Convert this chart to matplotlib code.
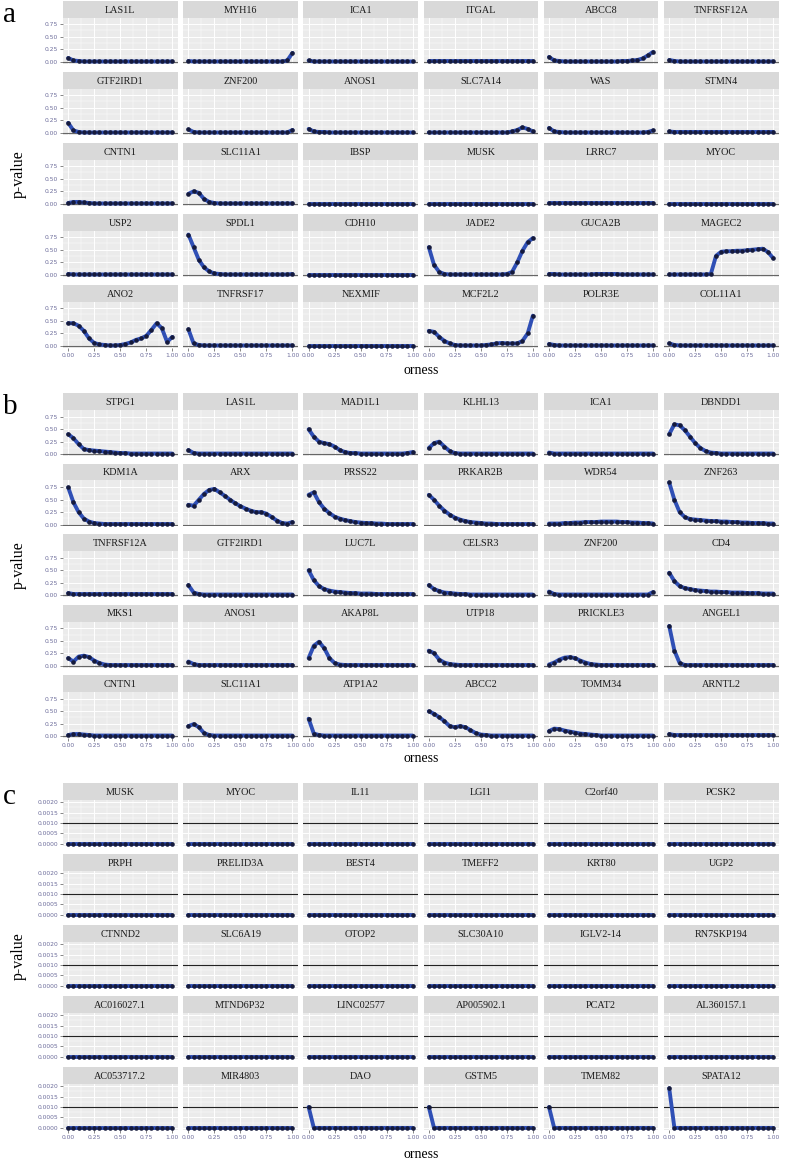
import matplotlib
matplotlib.use("Agg")
import matplotlib.pyplot as plt
from matplotlib.ticker import FixedLocator


W, H = 786, 1161

ORNESS = [0.00, 0.05, 0.10, 0.15, 0.20, 0.25, 0.30, 0.35, 0.40, 0.45, 0.50,
          0.55, 0.60, 0.65, 0.70, 0.75, 0.80, 0.85, 0.90, 0.95, 1.00]

# ---- panel a ----
A_GENES = ["LAS1L", "MYH16", "ICA1", "ITGAL", "ABCC8", "TNFRSF12A",
           "GTF2IRD1", "ZNF200", "ANOS1", "SLC7A14", "WAS", "STMN4",
           "CNTN1", "SLC11A1", "IBSP", "MUSK", "LRRC7", "MYOC",
           "USP2", "SPDL1", "CDH10", "JADE2", "GUCA2B", "MAGEC2",
           "ANO2", "TNFRSF17", "NEXMIF", "MCF2L2", "POLR3E", "COL11A1"]
A_PVALS = [
    [0.08, 0.03, 0.02, 0.01, 0.01, 0.01, 0.01, 0.01, 0.01, 0.01, 0.01, 0.01, 0.01, 0.01, 0.01, 0.01, 0.01, 0.01, 0.01, 0.01, 0.01],
    [0.02, 0.01, 0.01, 0.01, 0.01, 0.01, 0.01, 0.01, 0.01, 0.01, 0.01, 0.01, 0.01, 0.01, 0.01, 0.01, 0.01, 0.01, 0.01, 0.03, 0.18],
    [0.03, 0.01, 0.01, 0.01, 0.01, 0.01, 0.01, 0.01, 0.01, 0.01, 0.01, 0.01, 0.01, 0.01, 0.01, 0.01, 0.01, 0.01, 0.01, 0.01, 0.01],
    [0.01, 0.01, 0.01, 0.01, 0.01, 0.01, 0.01, 0.01, 0.01, 0.01, 0.01, 0.01, 0.01, 0.01, 0.01, 0.01, 0.01, 0.01, 0.01, 0.01, 0.01],
    [0.10, 0.03, 0.02, 0.01, 0.01, 0.01, 0.01, 0.01, 0.01, 0.01, 0.01, 0.01, 0.01, 0.01, 0.02, 0.02, 0.03, 0.04, 0.07, 0.13, 0.20],
    [0.04, 0.02, 0.01, 0.01, 0.01, 0.01, 0.01, 0.01, 0.01, 0.01, 0.01, 0.01, 0.01, 0.01, 0.01, 0.01, 0.01, 0.01, 0.01, 0.01, 0.01],
    [0.20, 0.05, 0.02, 0.01, 0.01, 0.01, 0.01, 0.01, 0.01, 0.01, 0.01, 0.01, 0.01, 0.01, 0.01, 0.01, 0.01, 0.01, 0.01, 0.01, 0.01],
    [0.07, 0.02, 0.01, 0.01, 0.01, 0.01, 0.01, 0.01, 0.01, 0.01, 0.01, 0.01, 0.01, 0.01, 0.01, 0.01, 0.01, 0.01, 0.01, 0.01, 0.06],
    [0.08, 0.03, 0.02, 0.02, 0.01, 0.01, 0.01, 0.01, 0.01, 0.01, 0.01, 0.01, 0.01, 0.01, 0.01, 0.01, 0.01, 0.01, 0.01, 0.01, 0.01],
    [0.01, 0.01, 0.01, 0.01, 0.01, 0.01, 0.01, 0.01, 0.01, 0.01, 0.01, 0.01, 0.01, 0.01, 0.01, 0.01, 0.03, 0.06, 0.11, 0.08, 0.03],
    [0.10, 0.03, 0.02, 0.01, 0.01, 0.01, 0.01, 0.01, 0.01, 0.01, 0.01, 0.01, 0.01, 0.01, 0.01, 0.01, 0.01, 0.01, 0.01, 0.02, 0.05],
    [0.03, 0.02, 0.02, 0.02, 0.02, 0.02, 0.02, 0.02, 0.02, 0.02, 0.02, 0.02, 0.02, 0.02, 0.02, 0.02, 0.02, 0.02, 0.02, 0.02, 0.02],
    [0.02, 0.04, 0.04, 0.03, 0.02, 0.01, 0.01, 0.01, 0.01, 0.01, 0.01, 0.01, 0.01, 0.01, 0.01, 0.01, 0.01, 0.01, 0.01, 0.01, 0.01],
    [0.20, 0.25, 0.22, 0.10, 0.04, 0.02, 0.01, 0.01, 0.01, 0.01, 0.01, 0.01, 0.01, 0.01, 0.01, 0.01, 0.01, 0.01, 0.01, 0.01, 0.01],
    [0.00, 0.00, 0.00, 0.00, 0.00, 0.00, 0.00, 0.00, 0.00, 0.00, 0.00, 0.00, 0.00, 0.00, 0.00, 0.00, 0.00, 0.00, 0.00, 0.00, 0.00],
    [0.00, 0.00, 0.00, 0.00, 0.00, 0.00, 0.00, 0.00, 0.00, 0.00, 0.00, 0.00, 0.00, 0.00, 0.00, 0.00, 0.00, 0.00, 0.00, 0.00, 0.00],
    [0.01, 0.01, 0.01, 0.01, 0.01, 0.01, 0.01, 0.01, 0.01, 0.01, 0.01, 0.01, 0.01, 0.01, 0.01, 0.01, 0.01, 0.01, 0.01, 0.01, 0.01],
    [0.00, 0.00, 0.00, 0.00, 0.00, 0.00, 0.00, 0.00, 0.00, 0.00, 0.00, 0.00, 0.00, 0.00, 0.00, 0.00, 0.00, 0.00, 0.00, 0.00, 0.00],
    [0.02, 0.01, 0.01, 0.01, 0.01, 0.01, 0.01, 0.01, 0.01, 0.01, 0.01, 0.01, 0.01, 0.01, 0.01, 0.01, 0.01, 0.01, 0.01, 0.01, 0.01],
    [0.80, 0.55, 0.30, 0.15, 0.07, 0.03, 0.02, 0.01, 0.01, 0.01, 0.01, 0.01, 0.01, 0.01, 0.01, 0.01, 0.01, 0.01, 0.01, 0.01, 0.02],
    [0.00, 0.00, 0.00, 0.00, 0.00, 0.00, 0.00, 0.00, 0.00, 0.00, 0.00, 0.00, 0.00, 0.00, 0.00, 0.00, 0.00, 0.00, 0.00, 0.00, 0.00],
    [0.55, 0.20, 0.06, 0.02, 0.01, 0.01, 0.01, 0.01, 0.01, 0.01, 0.01, 0.01, 0.01, 0.01, 0.01, 0.02, 0.06, 0.25, 0.48, 0.65, 0.73],
    [0.02, 0.02, 0.01, 0.01, 0.01, 0.01, 0.01, 0.01, 0.01, 0.02, 0.02, 0.02, 0.02, 0.02, 0.01, 0.01, 0.01, 0.01, 0.01, 0.01, 0.01],
    [0.01, 0.01, 0.01, 0.01, 0.01, 0.01, 0.01, 0.01, 0.02, 0.38, 0.46, 0.47, 0.47, 0.48, 0.48, 0.49, 0.50, 0.51, 0.52, 0.45, 0.33],
    [0.45, 0.45, 0.40, 0.30, 0.15, 0.06, 0.03, 0.02, 0.01, 0.01, 0.02, 0.04, 0.07, 0.12, 0.15, 0.20, 0.32, 0.45, 0.35, 0.08, 0.18],
    [0.33, 0.05, 0.02, 0.01, 0.01, 0.01, 0.01, 0.01, 0.01, 0.01, 0.01, 0.01, 0.01, 0.01, 0.01, 0.01, 0.01, 0.01, 0.01, 0.01, 0.01],
    [0.00, 0.00, 0.00, 0.00, 0.00, 0.00, 0.00, 0.00, 0.00, 0.00, 0.00, 0.00, 0.00, 0.00, 0.00, 0.00, 0.00, 0.00, 0.00, 0.00, 0.00],
    [0.30, 0.28, 0.18, 0.10, 0.05, 0.02, 0.01, 0.01, 0.01, 0.01, 0.01, 0.02, 0.03, 0.05, 0.06, 0.05, 0.05, 0.05, 0.10, 0.25, 0.60],
    [0.04, 0.02, 0.01, 0.01, 0.01, 0.01, 0.01, 0.01, 0.01, 0.01, 0.01, 0.01, 0.01, 0.01, 0.01, 0.01, 0.01, 0.01, 0.01, 0.01, 0.01],
    [0.05, 0.02, 0.01, 0.01, 0.01, 0.01, 0.01, 0.01, 0.01, 0.01, 0.01, 0.01, 0.01, 0.01, 0.01, 0.01, 0.01, 0.01, 0.01, 0.01, 0.01],
]

# ---- panel b ----
B_GENES = ["STPG1", "LAS1L", "MAD1L1", "KLHL13", "ICA1", "DBNDD1",
           "KDM1A", "ARX", "PRSS22", "PRKAR2B", "WDR54", "ZNF263",
           "TNFRSF12A", "GTF2IRD1", "LUC7L", "CELSR3", "ZNF200", "CD4",
           "MKS1", "ANOS1", "AKAP8L", "UTP18", "PRICKLE3", "ANGEL1",
           "CNTN1", "SLC11A1", "ATP1A2", "ABCC2", "TOMM34", "ARNTL2"]
B_PVALS = [
    [0.40, 0.32, 0.20, 0.10, 0.08, 0.07, 0.06, 0.05, 0.04, 0.03, 0.02, 0.02, 0.01, 0.01, 0.01, 0.01, 0.01, 0.01, 0.01, 0.01, 0.01],
    [0.08, 0.02, 0.01, 0.01, 0.01, 0.01, 0.01, 0.01, 0.01, 0.01, 0.01, 0.01, 0.01, 0.01, 0.01, 0.01, 0.01, 0.01, 0.01, 0.01, 0.01],
    [0.50, 0.35, 0.25, 0.22, 0.20, 0.15, 0.08, 0.04, 0.02, 0.02, 0.01, 0.01, 0.01, 0.01, 0.01, 0.01, 0.01, 0.01, 0.01, 0.02, 0.04],
    [0.12, 0.22, 0.25, 0.15, 0.06, 0.02, 0.01, 0.01, 0.01, 0.01, 0.01, 0.01, 0.01, 0.01, 0.01, 0.01, 0.01, 0.01, 0.01, 0.01, 0.01],
    [0.03, 0.01, 0.01, 0.01, 0.01, 0.01, 0.01, 0.01, 0.01, 0.01, 0.01, 0.01, 0.01, 0.01, 0.01, 0.01, 0.01, 0.01, 0.01, 0.01, 0.01],
    [0.40, 0.60, 0.58, 0.48, 0.35, 0.22, 0.12, 0.06, 0.03, 0.02, 0.01, 0.01, 0.01, 0.01, 0.01, 0.01, 0.01, 0.01, 0.01, 0.01, 0.01],
    [0.75, 0.45, 0.25, 0.12, 0.06, 0.03, 0.02, 0.01, 0.01, 0.01, 0.01, 0.01, 0.01, 0.01, 0.01, 0.01, 0.01, 0.01, 0.01, 0.01, 0.01],
    [0.40, 0.38, 0.50, 0.62, 0.70, 0.72, 0.65, 0.58, 0.50, 0.43, 0.37, 0.32, 0.28, 0.25, 0.25, 0.22, 0.15, 0.08, 0.03, 0.02, 0.05],
    [0.60, 0.65, 0.45, 0.32, 0.23, 0.16, 0.12, 0.09, 0.07, 0.05, 0.04, 0.03, 0.03, 0.02, 0.02, 0.01, 0.01, 0.01, 0.01, 0.01, 0.01],
    [0.60, 0.50, 0.38, 0.28, 0.20, 0.14, 0.10, 0.07, 0.05, 0.04, 0.03, 0.02, 0.02, 0.01, 0.01, 0.01, 0.01, 0.01, 0.01, 0.01, 0.01],
    [0.02, 0.02, 0.02, 0.03, 0.03, 0.04, 0.04, 0.05, 0.05, 0.05, 0.06, 0.06, 0.06, 0.06, 0.05, 0.05, 0.04, 0.04, 0.03, 0.03, 0.02],
    [0.85, 0.50, 0.25, 0.15, 0.11, 0.10, 0.09, 0.08, 0.07, 0.07, 0.06, 0.06, 0.05, 0.05, 0.04, 0.04, 0.03, 0.03, 0.03, 0.02, 0.02],
    [0.04, 0.02, 0.02, 0.02, 0.02, 0.02, 0.02, 0.02, 0.02, 0.02, 0.02, 0.02, 0.02, 0.02, 0.02, 0.02, 0.02, 0.02, 0.02, 0.02, 0.02],
    [0.20, 0.05, 0.02, 0.01, 0.01, 0.01, 0.01, 0.01, 0.01, 0.01, 0.01, 0.01, 0.01, 0.01, 0.01, 0.01, 0.01, 0.01, 0.01, 0.01, 0.01],
    [0.50, 0.30, 0.18, 0.12, 0.09, 0.07, 0.06, 0.05, 0.04, 0.04, 0.03, 0.03, 0.03, 0.02, 0.02, 0.02, 0.02, 0.02, 0.02, 0.02, 0.02],
    [0.20, 0.12, 0.08, 0.05, 0.04, 0.03, 0.02, 0.02, 0.01, 0.01, 0.01, 0.01, 0.01, 0.01, 0.01, 0.01, 0.01, 0.01, 0.01, 0.01, 0.01],
    [0.07, 0.02, 0.01, 0.01, 0.01, 0.01, 0.01, 0.01, 0.01, 0.01, 0.01, 0.01, 0.01, 0.01, 0.01, 0.01, 0.01, 0.01, 0.01, 0.01, 0.06],
    [0.45, 0.28, 0.18, 0.14, 0.12, 0.10, 0.09, 0.08, 0.07, 0.07, 0.06, 0.06, 0.05, 0.05, 0.05, 0.04, 0.04, 0.04, 0.03, 0.03, 0.03],
    [0.15, 0.08, 0.18, 0.20, 0.17, 0.10, 0.05, 0.02, 0.01, 0.01, 0.01, 0.01, 0.01, 0.01, 0.01, 0.01, 0.01, 0.01, 0.01, 0.01, 0.01],
    [0.08, 0.03, 0.01, 0.01, 0.01, 0.01, 0.01, 0.01, 0.01, 0.01, 0.01, 0.01, 0.01, 0.01, 0.01, 0.01, 0.01, 0.01, 0.01, 0.01, 0.01],
    [0.15, 0.40, 0.48, 0.35, 0.15, 0.05, 0.02, 0.01, 0.01, 0.01, 0.01, 0.01, 0.01, 0.01, 0.01, 0.01, 0.01, 0.01, 0.01, 0.01, 0.01],
    [0.30, 0.25, 0.12, 0.06, 0.03, 0.02, 0.01, 0.01, 0.01, 0.01, 0.01, 0.01, 0.01, 0.01, 0.01, 0.01, 0.01, 0.01, 0.01, 0.01, 0.01],
    [0.02, 0.06, 0.12, 0.16, 0.17, 0.15, 0.10, 0.06, 0.03, 0.02, 0.01, 0.01, 0.01, 0.01, 0.01, 0.01, 0.01, 0.01, 0.01, 0.01, 0.01],
    [0.80, 0.30, 0.05, 0.01, 0.01, 0.01, 0.01, 0.01, 0.01, 0.01, 0.01, 0.01, 0.01, 0.01, 0.01, 0.01, 0.01, 0.01, 0.01, 0.01, 0.01],
    [0.02, 0.04, 0.04, 0.03, 0.02, 0.01, 0.01, 0.01, 0.01, 0.01, 0.01, 0.01, 0.01, 0.01, 0.01, 0.01, 0.01, 0.01, 0.01, 0.01, 0.01],
    [0.20, 0.24, 0.18, 0.06, 0.02, 0.01, 0.01, 0.01, 0.01, 0.01, 0.01, 0.01, 0.01, 0.01, 0.01, 0.01, 0.01, 0.01, 0.01, 0.01, 0.01],
    [0.35, 0.05, 0.02, 0.01, 0.01, 0.01, 0.01, 0.01, 0.01, 0.01, 0.01, 0.01, 0.01, 0.01, 0.01, 0.01, 0.01, 0.01, 0.01, 0.01, 0.01],
    [0.50, 0.45, 0.38, 0.30, 0.20, 0.18, 0.20, 0.18, 0.12, 0.06, 0.03, 0.02, 0.01, 0.01, 0.01, 0.01, 0.01, 0.01, 0.01, 0.01, 0.01],
    [0.10, 0.15, 0.14, 0.11, 0.09, 0.07, 0.05, 0.04, 0.03, 0.02, 0.01, 0.01, 0.01, 0.01, 0.01, 0.01, 0.01, 0.01, 0.01, 0.01, 0.01],
    [0.04, 0.02, 0.02, 0.02, 0.02, 0.02, 0.02, 0.02, 0.02, 0.02, 0.02, 0.02, 0.02, 0.02, 0.02, 0.02, 0.02, 0.02, 0.02, 0.02, 0.02],
]

# ---- panel c ----
C_GENES = ["MUSK", "MYOC", "IL11", "LGI1", "C2orf40", "PCSK2",
           "PRPH", "PRELID3A", "BEST4", "TMEFF2", "KRT80", "UGP2",
           "CTNND2", "SLC6A19", "OTOP2", "SLC30A10", "IGLV2-14", "RN7SKP194",
           "AC016027.1", "MTND6P32", "LINC02577", "AP005902.1", "PCAT2", "AL360157.1",
           "AC053717.2", "MIR4803", "DAO", "GSTM5", "TMEM82", "SPATA12"]
C_PVALS = [
    [0, 0, 0, 0, 0, 0, 0, 0, 0, 0, 0, 0, 0, 0, 0, 0, 0, 0, 0, 0, 0],
    [0, 0, 0, 0, 0, 0, 0, 0, 0, 0, 0, 0, 0, 0, 0, 0, 0, 0, 0, 0, 0],
    [0, 0, 0, 0, 0, 0, 0, 0, 0, 0, 0, 0, 0, 0, 0, 0, 0, 0, 0, 0, 0],
    [0, 0, 0, 0, 0, 0, 0, 0, 0, 0, 0, 0, 0, 0, 0, 0, 0, 0, 0, 0, 0],
    [0, 0, 0, 0, 0, 0, 0, 0, 0, 0, 0, 0, 0, 0, 0, 0, 0, 0, 0, 0, 0],
    [0, 0, 0, 0, 0, 0, 0, 0, 0, 0, 0, 0, 0, 0, 0, 0, 0, 0, 0, 0, 0],
    [0, 0, 0, 0, 0, 0, 0, 0, 0, 0, 0, 0, 0, 0, 0, 0, 0, 0, 0, 0, 0],
    [0, 0, 0, 0, 0, 0, 0, 0, 0, 0, 0, 0, 0, 0, 0, 0, 0, 0, 0, 0, 0],
    [0, 0, 0, 0, 0, 0, 0, 0, 0, 0, 0, 0, 0, 0, 0, 0, 0, 0, 0, 0, 0],
    [0, 0, 0, 0, 0, 0, 0, 0, 0, 0, 0, 0, 0, 0, 0, 0, 0, 0, 0, 0, 0],
    [0, 0, 0, 0, 0, 0, 0, 0, 0, 0, 0, 0, 0, 0, 0, 0, 0, 0, 0, 0, 0],
    [0, 0, 0, 0, 0, 0, 0, 0, 0, 0, 0, 0, 0, 0, 0, 0, 0, 0, 0, 0, 0],
    [0, 0, 0, 0, 0, 0, 0, 0, 0, 0, 0, 0, 0, 0, 0, 0, 0, 0, 0, 0, 0],
    [0, 0, 0, 0, 0, 0, 0, 0, 0, 0, 0, 0, 0, 0, 0, 0, 0, 0, 0, 0, 0],
    [0, 0, 0, 0, 0, 0, 0, 0, 0, 0, 0, 0, 0, 0, 0, 0, 0, 0, 0, 0, 0],
    [0, 0, 0, 0, 0, 0, 0, 0, 0, 0, 0, 0, 0, 0, 0, 0, 0, 0, 0, 0, 0],
    [0, 0, 0, 0, 0, 0, 0, 0, 0, 0, 0, 0, 0, 0, 0, 0, 0, 0, 0, 0, 0],
    [0, 0, 0, 0, 0, 0, 0, 0, 0, 0, 0, 0, 0, 0, 0, 0, 0, 0, 0, 0, 0],
    [0, 0, 0, 0, 0, 0, 0, 0, 0, 0, 0, 0, 0, 0, 0, 0, 0, 0, 0, 0, 0],
    [0, 0, 0, 0, 0, 0, 0, 0, 0, 0, 0, 0, 0, 0, 0, 0, 0, 0, 0, 0, 0],
    [0, 0, 0, 0, 0, 0, 0, 0, 0, 0, 0, 0, 0, 0, 0, 0, 0, 0, 0, 0, 0],
    [0, 0, 0, 0, 0, 0, 0, 0, 0, 0, 0, 0, 0, 0, 0, 0, 0, 0, 0, 0, 0],
    [0, 0, 0, 0, 0, 0, 0, 0, 0, 0, 0, 0, 0, 0, 0, 0, 0, 0, 0, 0, 0],
    [0, 0, 0, 0, 0, 0, 0, 0, 0, 0, 0, 0, 0, 0, 0, 0, 0, 0, 0, 0, 0],
    [0, 0, 0, 0, 0, 0, 0, 0, 0, 0, 0, 0, 0, 0, 0, 0, 0, 0, 0, 0, 0],
    [0, 0, 0, 0, 0, 0, 0, 0, 0, 0, 0, 0, 0, 0, 0, 0, 0, 0, 0, 0, 0],
    [0.001, 0, 0, 0, 0, 0, 0, 0, 0, 0, 0, 0, 0, 0, 0, 0, 0, 0, 0, 0, 0],
    [0.001, 0, 0, 0, 0, 0, 0, 0, 0, 0, 0, 0, 0, 0, 0, 0, 0, 0, 0, 0, 0],
    [0.001, 0, 0, 0, 0, 0, 0, 0, 0, 0, 0, 0, 0, 0, 0, 0, 0, 0, 0, 0, 0],
    [0.0019, 0, 0, 0, 0, 0, 0, 0, 0, 0, 0, 0, 0, 0, 0, 0, 0, 0, 0, 0, 0],
]

X_TICKS = [0.0, 0.25, 0.5, 0.75, 1.0]
X_TICK_LABELS = ["0.00", "0.25", "0.50", "0.75", "1.00"]
AB_Y_TICKS = [0.0, 0.25, 0.5, 0.75]
AB_Y_LABELS = ["0.00", "0.25", "0.50", "0.75"]
C_Y_TICKS = [0.0, 0.0005, 0.001, 0.0015, 0.002]
C_Y_LABELS = ["0.0000", "0.0005", "0.0010", "0.0015", "0.0020"]

SERIF = ["Liberation Serif", "DejaVu Serif"]
LINE_BLUE = "#2f4fb5"
POINT_DARK = "#151a3c"

# layout in pixels
COL_LEFT = 63
COL_PITCH = 120.2
COL_W = 114.5
STRIP_H = 17
PLOT_H = 46


def px_axes(fig, x, y, w, h):
    # x, y is the top-left corner in pixels
    return fig.add_axes([x / W, 1 - (y + h) / H, w / W, h / H])


def draw_panel(fig, letter, genes, pvals, top, pitch, ylim, yticks, ylabels,
               hline, hline_color, xlabel_y):
    for v in pvals:
        assert len(v) == len(ORNESS)

    for idx, (gene, vals) in enumerate(zip(genes, pvals)):
        row, col = divmod(idx, 6)
        x = COL_LEFT + col * COL_PITCH
        y = top + row * pitch

        # facet strip
        sax = px_axes(fig, x, y, COL_W, STRIP_H)
        sax.set_facecolor("#d9d9d9")
        sax.set_xticks([])
        sax.set_yticks([])
        for sp in sax.spines.values():
            sp.set_visible(False)
        sax.text(0.5, 0.45, gene, ha="center", va="center", fontsize=7.3,
                 color="#1a1a1a", family=SERIF, transform=sax.transAxes)

        ax = px_axes(fig, x, y + STRIP_H, COL_W, PLOT_H)
        ax.set_facecolor("#ebebeb")
        for sp in ax.spines.values():
            sp.set_visible(False)
        ax.set_xlim(-0.05, 1.05)
        ax.set_ylim(*ylim)
        ax.xaxis.set_major_locator(FixedLocator(X_TICKS))
        ax.xaxis.set_minor_locator(FixedLocator([0.125, 0.375, 0.625, 0.875]))
        ax.yaxis.set_major_locator(FixedLocator(yticks))
        minor_y = [(a + b) / 2 for a, b in zip(yticks[:-1], yticks[1:])]
        ax.yaxis.set_minor_locator(FixedLocator(minor_y))
        ax.grid(which="major", color="white", lw=0.7)
        ax.grid(which="minor", color="white", lw=0.35)
        ax.set_axisbelow(True)
        ax.tick_params(which="minor", length=0)
        ax.tick_params(which="major", length=2, width=0.5, color="#555555",
                       labelsize=4.3, labelcolor="#6b6b9a", pad=1.5)

        if col == 0:
            ax.set_yticklabels(ylabels)
        else:
            ax.tick_params(axis="y", length=0)
            ax.set_yticklabels([])
        if row == 4:
            ax.set_xticklabels(X_TICK_LABELS)
        else:
            ax.tick_params(axis="x", length=0)
            ax.set_xticklabels([])

        ax.axhline(hline, color=hline_color, lw=0.8, zorder=1.5)
        ax.plot(ORNESS, vals, color=LINE_BLUE, lw=2.8, zorder=2,
                solid_capstyle="round")
        ax.plot(ORNESS, vals, "o", color=POINT_DARK, ms=3.3, mew=0, zorder=3)

    # panel letter, axis titles
    fig.text(3 / W, 1 - (top + 14) / H, letter, fontsize=21, family=SERIF,
             ha="left", va="center")
    mid_y = top + (4 * pitch + STRIP_H + PLOT_H) / 2
    fig.text(19 / W, 1 - mid_y / H, "p-value", rotation=90, fontsize=11.5,
             family=SERIF, ha="center", va="center")
    mid_x = COL_LEFT + (5 * COL_PITCH + COL_W) / 2
    fig.text(mid_x / W, 1 - xlabel_y / H, "orness", fontsize=10,
             family=SERIF, ha="center", va="center")


fig = plt.figure(figsize=(W / 100, H / 100), dpi=100)
fig.patch.set_facecolor("white")

draw_panel(fig, "a", A_GENES, A_PVALS, top=1, pitch=71, ylim=(-0.04, 0.87),
           yticks=AB_Y_TICKS, ylabels=AB_Y_LABELS, hline=0.0,
           hline_color="#666666", xlabel_y=370)
draw_panel(fig, "b", B_GENES, B_PVALS, top=393, pitch=70.5, ylim=(-0.04, 0.89),
           yticks=AB_Y_TICKS, ylabels=AB_Y_LABELS, hline=0.0,
           hline_color="#666666", xlabel_y=758)
draw_panel(fig, "c", C_GENES, C_PVALS, top=783, pitch=71, ylim=(-0.0001, 0.0021),
           yticks=C_Y_TICKS, ylabels=C_Y_LABELS, hline=0.001,
           hline_color="#222222", xlabel_y=1154)

fig.savefig("out.png", dpi=100)
